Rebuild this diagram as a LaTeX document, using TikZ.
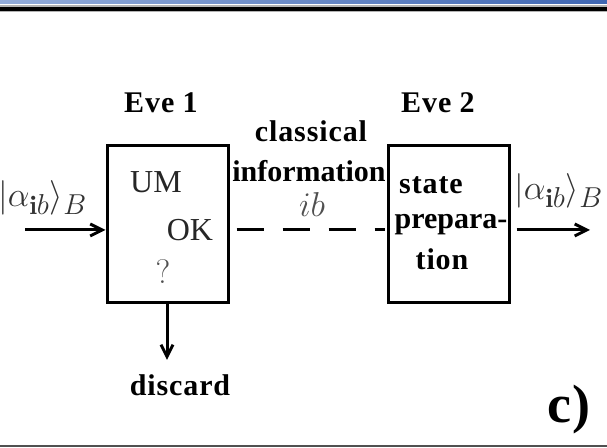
\documentclass[tikz,border=0pt]{standalone}
\usepackage{amsmath,amssymb}
\usepackage{fontspec}
\usepackage{xcolor}
\usetikzlibrary{arrows.meta, positioning, calc}
\newfontfamily\labelfont[LetterSpace=3]{Liberation Serif}
\newfontfamily\boxfont{Liberation Serif}
\definecolor{barleft}{HTML}{93ACD9}
\definecolor{barright}{HTML}{3F66B2}
\definecolor{softgray}{HTML}{505050}

\begin{document}
\begin{tikzpicture}[
    x=0.5pt, y=-0.5pt,
    box/.style={
        rectangle,
        draw,
        line width=1.5pt,
        minimum width=60.5pt,
        minimum height=78.5pt,
        inner sep=0pt
    },
    tag/.style={font=\labelfont\bfseries\fontsize{15}{18}\selectfont, inner sep=0pt},
    tight/.style={font=\boxfont\bfseries\fontsize{15}{18}\selectfont, inner sep=0pt},
    plain/.style={font=\boxfont\fontsize{16}{18}\selectfont, inner sep=0pt, text=black!85},
    faint/.style={font=\fontsize{17}{20}\selectfont, inner sep=0pt, text=softgray},
    ket/.style={font=\fontsize{19}{22}\selectfont, inner sep=0pt, text=black!80},
    arrow/.style={-{Straight Barb[length=6pt, width=6pt]}, line width=1.5pt},
    channel/.style={line width=1.5pt, dash pattern=on 13.5pt off 9.5pt}
]
    \useasboundingbox (0,0) rectangle (607,448);

    % screen frame
    \shade [left color=barleft, right color=barright] (0,0) rectangle (607,3.5);
    \fill [gray!60] (0,5) rectangle (607,12);
    \fill [black] (0,7) rectangle (607,11);
    \fill [softgray] (0,445) rectangle (607,447);

    % Place the two boxes
    \node [box] (umbox) at (167.5,224.5) {};
    \node [box] (prepbox) at (448.5,224.5) {};

    \node [tag] (eve1) at (161,103) {Eve 1};
    \node [tag] (eve2) at (438,103) {Eve 2};

    % inside Eve 1
    \node [plain] (um) at (156,182) {UM};
    \node [plain] (ok) at (190,230) {OK};
    \node [faint] (query) at (163,272) {?};

    % inside Eve 2
    \node [tag] (state) at (431,185) {state};
    \node [tight] (prepara) at (451,225) {prepara-};
    \node [tag] (tion) at (442,259) {tion};

    % channel labels
    \node [tag] (classical) at (311,131) {classical};
    \node [tight] (info) at (309,171) {information};
    \node [ket, text=softgray] (ib) at (312,205) {$ib$};

    \node [ket, anchor=west] (ketin) at (-2,198) {$|\alpha_{\mathbf{i}b}\rangle_B$};
    \node [ket, anchor=west] (ketout) at (514,191) {$|\alpha_{\mathbf{i}b}\rangle_B$};

    \node [tag] (discard) at (180,385) {discard};
    \node [tag, font=\labelfont\bfseries\fontsize{27}{30}\selectfont] (panel) at (569,410) {c)};

    % Draw Directed Connections
    \coordinate (src) at (25,230);
    \coordinate (dst) at (590,230);
    \coordinate (bin) at (167,360);
    \draw [arrow] (src) -- (src -| umbox.west);
    \draw [channel, shorten <=3.5pt, shorten >=1pt] (umbox.east |- src) -- (prepbox.west |- src);
    \draw [arrow, shorten <=3pt] (prepbox.east |- dst) -- (dst);
    \draw [arrow] (umbox.south -| bin) -- (bin);

\end{tikzpicture}
\end{document}
